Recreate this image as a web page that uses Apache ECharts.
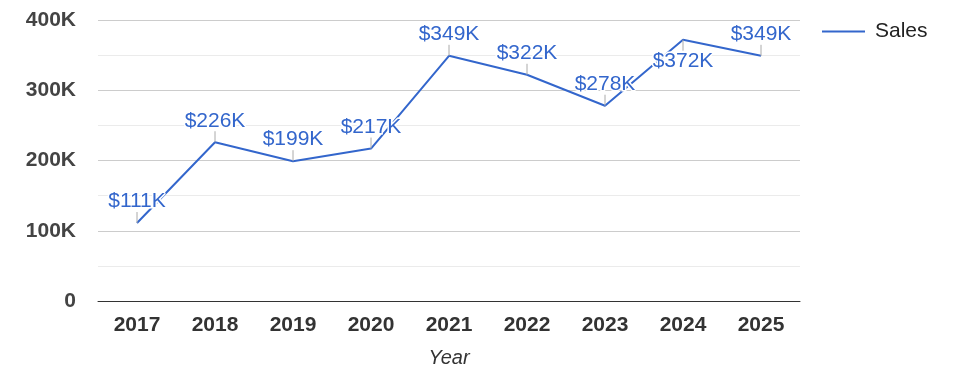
<!DOCTYPE html>
<html><head><meta charset="utf-8">
<script src="https://cdn.jsdelivr.net/npm/echarts@6/dist/echarts.min.js"></script>
<style>html,body{margin:0;padding:0;background:#fff}#c{width:975px;height:378px}</style>
</head><body><div id="c"></div>
<script>
const categories = ['2017','2018','2019','2020','2021','2022','2023','2024','2025'];
const sales = [111000, 226000, 199000, 217000, 349000, 322000, 278000, 372000, 349000];
const labelBelow = [false, false, false, false, false, false, false, true, false];
const yTicks = [0, 100000, 200000, 300000, 400000];

const FONT = 'Arial';
const chart = echarts.init(document.getElementById('c'));
const blue = '#3366cc';
const fmtK = v => v === 0 ? '0' : (v / 1000) + 'K';
chart.setOption({
  animation: false,
  grid: { left: 98, right: 175, top: 20, bottom: 77 },
  legend: {
    left: 817, top: 16, icon: 'rect', itemWidth: 43, itemHeight: 2,
    textStyle: { fontFamily: FONT, fontSize: 21, color: '#222', padding: [0,0,0,5] },
    data: [{ name: 'Sales', itemStyle: { color: blue } }]
  },
  xAxis: {
    type: 'category', data: categories, boundaryGap: true,
    name: 'Year', nameLocation: 'middle', nameGap: 47,
    nameTextStyle: { fontFamily: FONT, fontSize: 20, fontStyle: 'italic', color: '#333' },
    axisLine: { lineStyle: { color: '#333', width: 1 } },
    axisTick: { show: false },
    axisLabel: { margin: 14, fontFamily: FONT, fontSize: 21, fontWeight: 'bold', color: '#333' }
  },
  yAxis: {
    type: 'value', min: yTicks[0], max: yTicks[yTicks.length - 1], interval: 100000,
    axisLine: { show: false }, axisTick: { show: false },
    splitLine: { lineStyle: { color: '#cccccc' } },
    minorTick: { show: false, splitNumber: 2 },
    minorSplitLine: { show: true, lineStyle: { color: '#ebebeb' } },
    axisLabel: { margin: 22, formatter: fmtK, fontFamily: FONT, fontSize: 21, fontWeight: 'bold', color: '#444' }
  },
  series: [
    {
      name: 'Sales', type: 'line', data: sales, symbol: 'none',
      lineStyle: { color: blue, width: 2 }, itemStyle: { color: blue }, z: 2
    },
    {
      name: 'labels', type: 'custom', data: sales.map((v, i) => [i, v]), z: 5,
      renderItem: function (params, api) {
        const p = api.coord([api.value(0), api.value(1)]);
        const below = labelBelow[params.dataIndex];
        const d = below ? 1 : -1;
        return {
          type: 'group', children: [
            { type: 'line', shape: { x1: p[0], y1: p[1], x2: p[0], y2: p[1] + d * 11 }, style: { stroke: '#aaaaaa', lineWidth: 1 } },
            { type: 'text', x: p[0], y: p[1] + d * 11,
              style: { text: '$' + Math.round(api.value(1) / 1000) + 'K', fill: blue, align: 'center',
                verticalAlign: below ? 'top' : 'bottom',
                font: '21px Arial', stroke: '#fff', lineWidth: 3 } }
          ]
        };
      }
    }
  ]
});
</script></body></html>
